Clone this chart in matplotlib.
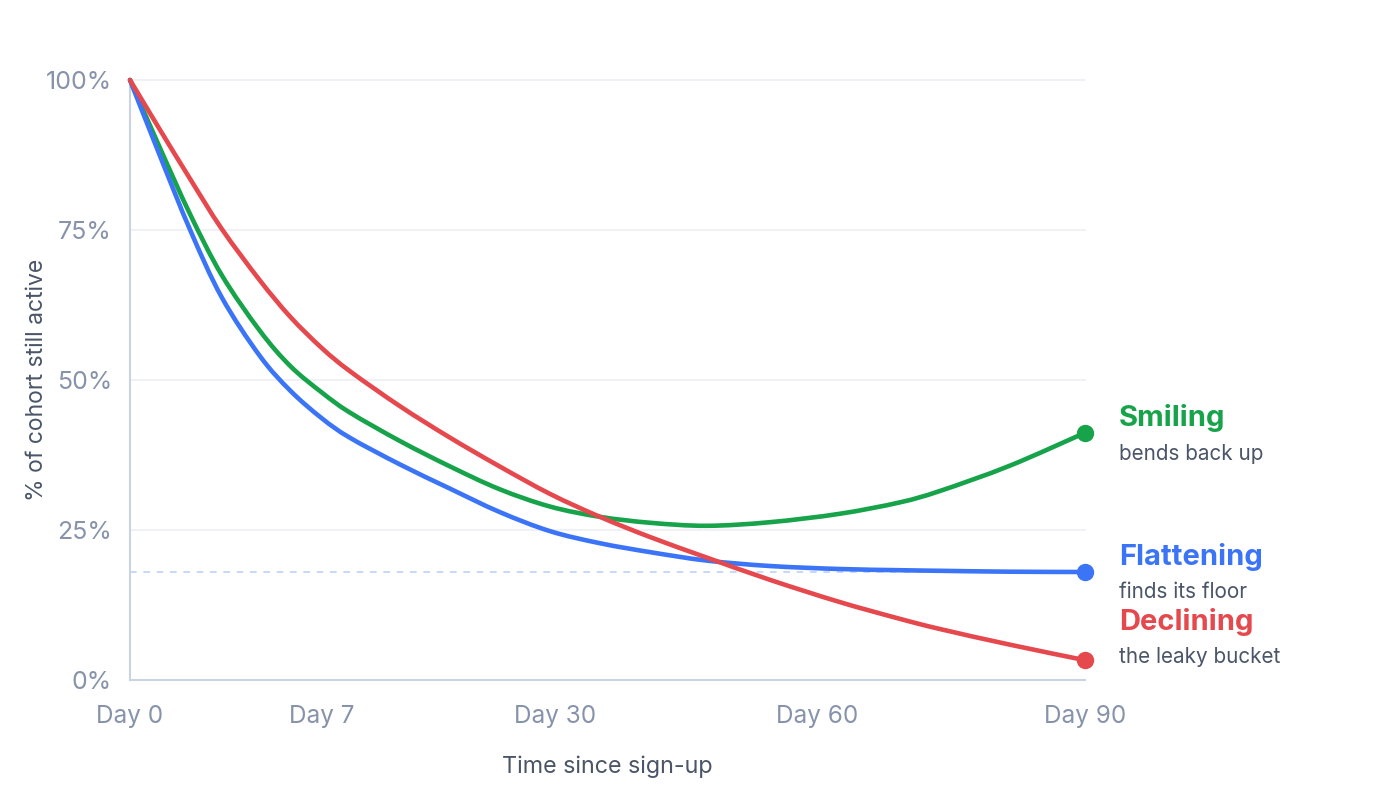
import matplotlib
matplotlib.use("Agg")
import matplotlib.pyplot as plt
from matplotlib.path import Path
from matplotlib.patches import PathPatch

plt.rcParams['font.family'] = ['Inter', 'DejaVu Sans']

# Axis positions (0-100 along the time axis) and their labels
tick_pos = [0, 20.1, 44.5, 71.9, 100]
tick_labels = ["Day 0", "Day 7", "Day 30", "Day 60", "Day 90"]

# Sample positions along the time axis
x_pos = [0, 3.1, 6.3, 9.6, 13.6, 16.8, 20.1, 23.0, 28.3, 33.5, 38.7,
         44.0, 49.2, 54.5, 60.4, 67.0, 74.3, 80.6, 84.8, 92.1, 100]

smiling = [100, 88.8, 77.6, 67.5, 58.2, 52.3, 47.9, 44.6, 39.8, 35.6, 31.8,
           28.9, 27.2, 26.2, 25.7, 26.3, 27.7, 29.6, 31.5, 35.7, 41.2]
flattening = [100, 87.5, 75.0, 63.8, 54.0, 48.2, 43.6, 40.4, 35.9, 31.9, 28.0,
              24.8, 22.8, 21.3, 19.9, 19.0, 18.5, 18.3, 18.2, 18.05, 18.0]
declining = [100, 91.8, 83.5, 75.2, 66.6, 60.5, 55.3, 51.5, 45.6, 40.4, 35.6,
             31.0, 27.2, 23.8, 20.4, 16.7, 13.0, 10.2, 8.5, 5.9, 3.3]

series_names = ["Smiling", "Flattening", "Declining"]
series_notes = ["bends back up", "finds its floor", "the leaky bucket"]
series_colors = ["#16a34a", "#3b74f6", "#e5484d"]
floor_value = 18.0

yticks = [0, 25, 50, 75, 100]
ytick_labels = ["0%", "25%", "50%", "75%", "100%"]


def smooth_path(xs, ys):
    """Catmull-Rom curve through the points, drawn as cubic Bezier segments."""
    pts = list(zip(xs, ys))
    verts = [pts[0]]
    codes = [Path.MOVETO]
    n = len(pts)
    for i in range(n - 1):
        p0 = pts[i - 1] if i > 0 else pts[i]
        p1 = pts[i]
        p2 = pts[i + 1]
        p3 = pts[i + 2] if i + 2 < n else pts[i + 1]
        c1 = (p1[0] + (p2[0] - p0[0]) / 6, p1[1] + (p2[1] - p0[1]) / 6)
        c2 = (p2[0] - (p3[0] - p1[0]) / 6, p2[1] - (p3[1] - p1[1]) / 6)
        verts += [c1, c2, p2]
        codes += [Path.CURVE4] * 3
    return Path(verts, codes)


fig = plt.figure(figsize=(14, 8), dpi=100)
ax = fig.add_axes([130 / 1400, 120 / 800, 955 / 1400, 600 / 800])
ax.set_xlim(0, 100)
ax.set_ylim(0, 100)

for y in yticks[1:]:
    ax.axhline(y, color="#eceff5", lw=1.2, zorder=0, clip_on=False)

ax.plot([0, 100], [floor_value, floor_value], color="#bfd2fb", lw=1.2,
        ls=(0, (4, 4)), zorder=1)

all_series = [smiling, flattening, declining]
for vals, col in zip(all_series, series_colors):
    patch = PathPatch(smooth_path(x_pos, vals), facecolor="none", edgecolor=col,
                      lw=3.3, capstyle="round", joinstyle="round", zorder=3,
                      clip_on=False)
    ax.add_patch(patch)
    ax.plot([x_pos[-1]], [vals[-1]], "o", color=col, ms=11.5, zorder=4,
            clip_on=False)

# Right-hand labels (offsets in px converted to points)
px = 0.72
title_off = [-15, -15, -38]
note_off = [21, 20, -3]
for vals, name, note, col, t_off, n_off in zip(all_series, series_names, series_notes,
                                                 series_colors, title_off, note_off):
    ax.annotate(name, xy=(x_pos[-1], vals[-1]), xytext=(34 * px, -t_off * px),
                textcoords="offset points", ha="left", va="center",
                fontsize=21, fontweight="bold", color=col,
                annotation_clip=False)
    ax.annotate(note, xy=(x_pos[-1], vals[-1]), xytext=(34 * px, -n_off * px),
                textcoords="offset points", ha="left", va="center",
                fontsize=14.9, color="#4a5568", annotation_clip=False)

for s in ["top", "right"]:
    ax.spines[s].set_visible(False)
for s in ["left", "bottom"]:
    ax.spines[s].set_color("#cbd3e3")
    ax.spines[s].set_linewidth(1.5)

ax.set_xticks(tick_pos)
ax.set_xticklabels(tick_labels)
ax.set_yticks(yticks)
ax.set_yticklabels(ytick_labels)
ax.tick_params(axis="both", length=0, labelcolor="#8793aa")
ax.tick_params(axis="x", pad=18, labelsize=17.5)
ax.tick_params(axis="y", pad=13, labelsize=18)

ax.set_xlabel("Time since sign-up", fontsize=16.8, color="#4a5568")
ax.set_ylabel("% of cohort still active", fontsize=16.5, color="#4a5568")
ax.xaxis.set_label_coords(0.5, -87 / 600)
ax.yaxis.set_label_coords(-93 / 955, 0.5)
ax.xaxis.label.set_va("center")
ax.yaxis.label.set_va("center")

fig.savefig("out.png", dpi=100, facecolor="white")
